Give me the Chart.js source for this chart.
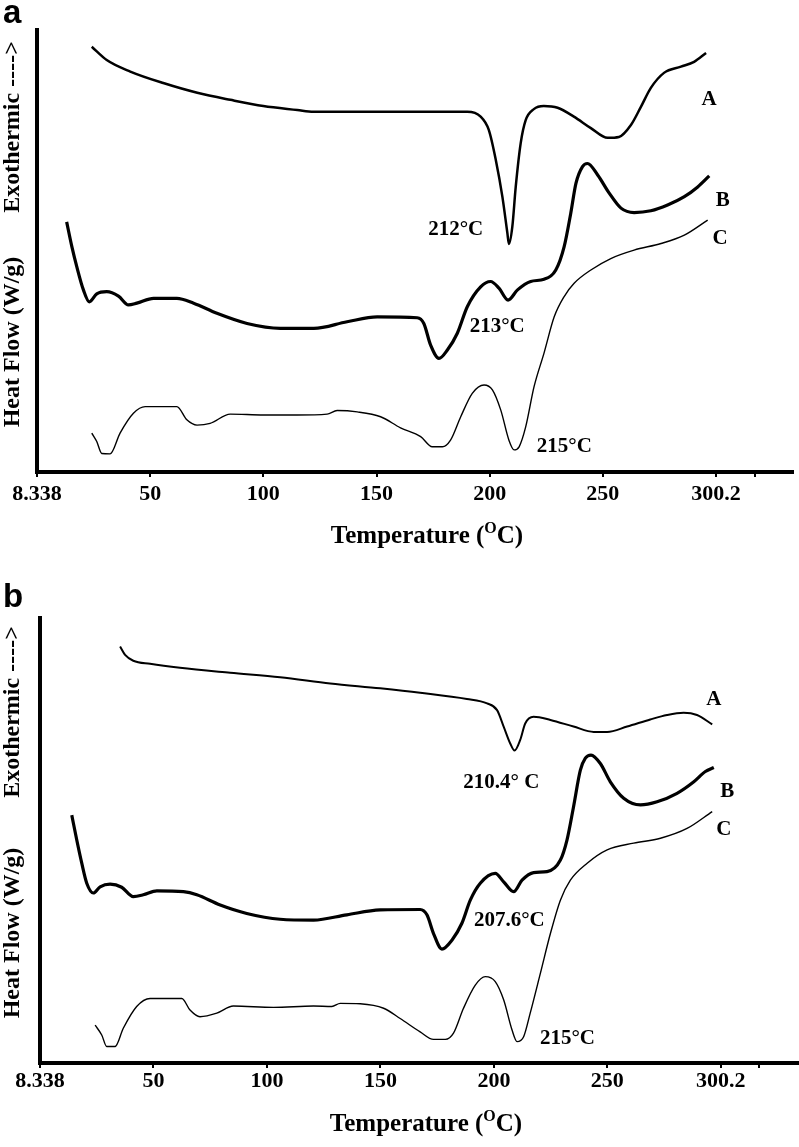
<!DOCTYPE html>
<html><head><meta charset="utf-8">
<script src="https://cdn.jsdelivr.net/npm/chart.js@4.4.0/dist/chart.umd.min.js"></script>
<style>
html,body{margin:0;padding:0;background:#fff;}
#wrap{position:relative;width:799px;height:1147px;overflow:hidden;background:#fff;}
.panel{position:absolute;left:0;width:799px;}
canvas{display:block;}
</style></head><body>
<div id="wrap">
<div class="panel" style="top:0;height:575px"><canvas id="ca" width="799" height="575"></canvas></div>
<div class="panel" style="top:575px;height:572px"><canvas id="cb" width="799" height="572"></canvas></div>
</div>
<script>
// ---- tick labels ----
const xTickValues = [0, 50, 100, 150, 200, 250, 300, 317];
const xTickLabels = ["8.338", "50", "100", "150", "200", "250", "300.2", ""];

// ---- panel a ----
const aA_T = [24.2,30.8,41.2,55.8,70.8,85.4,100,115,122.1,144.2,169.5,190.1,196.0,199.6,202.7,205.6,207.8,208.5,210.0,211.5,213.7,215.9,219.5,223.9,230.0,237.2,244.7,252.1,257.1,262.4,266.8,271.2,277.0,284.5,290.3,295.6];
const aA_H = [96.2,93.2,90.6,88.0,85.8,84.2,82.8,81.9,81.5,81.5,81.5,81.5,80.4,77.4,70.6,62.3,54.1,51.6,55.5,64.5,74.4,79.6,82.1,82.8,82.4,80.4,77.8,75.6,75.8,78.5,82.6,86.9,90.3,91.7,92.8,94.8];
const aB_T = [13.1,15.4,17.6,20.5,23.1,26.4,30.8,36.0,40.4,44.1,51.5,61.8,69.2,79.5,92.8,107.5,122.3,137.0,150.3,168.0,170.9,173.9,177.6,181.3,185.7,190.1,196.0,200.4,204.1,208.1,212.3,218.1,224.0,229.2,232.9,235.8,238.1,241.0,243.2,247.7,252.8,258.0,263.8,271.2,278.6,286.0,291.9,297.0];
const aB_H = [56.6,51.0,46.4,41.2,38.5,40.3,40.8,39.8,37.8,38.2,39.3,39.3,38.2,35.9,33.6,32.5,32.5,34.0,35.1,34.9,33.6,28.7,25.7,27.6,31.4,37.4,41.9,43.1,41.6,38.9,41.2,43.1,43.6,45.7,51.0,58.5,65.3,69.1,69.8,67.2,63.1,59.7,58.7,59.1,60.4,62.3,64.5,67.0];
const aC_T = [24.2,26.4,28.6,32.3,36.7,42.6,47.8,54.4,61.8,66.2,70.7,76.5,85.4,100.1,114.9,128.2,132.6,141.5,151.8,160.6,169.5,174.6,179.1,182.7,187.2,192.3,197.5,201.2,204.9,208.5,210.8,213.0,215.9,219.6,224.0,228.5,232.9,237.3,244.7,253.5,263.8,275.7,286.0,296.3];
const aC_H = [8.8,6.9,4.2,4.1,8.8,13.3,14.8,14.8,14.8,11.8,10.6,11.0,13.1,12.9,12.9,13.1,13.9,13.6,12.5,10.0,8.0,5.7,5.7,7.2,12.5,17.8,19.7,18.6,14.0,7.2,5.0,5.7,10.2,19.3,26.9,35.1,39.7,42.7,45.7,48.3,50.2,51.7,53.6,57.0];

// ---- panel b ----
const bA_T = [35.3,37.5,41.1,48.5,61.7,83.8,105.8,127.9,149.9,167.5,188.1,197.0,201.4,204.3,207.2,209.1,211.6,213.8,217.5,224.9,235.1,244.0,249.9,258.7,268.9,276.3,283.6,289.5,296.2];
const bA_H = [93.6,91.7,90.4,89.7,88.8,87.7,86.7,85.3,84.2,83.2,81.8,80.8,79.3,75.6,71.8,70.2,72.6,76.3,77.8,77.1,75.6,74.4,74.4,75.6,77.2,78.2,78.7,78.2,76.1];
const bB_T = [14.0,16.2,18.4,20.6,23.5,26.5,30.9,36.0,41.1,45.5,51.5,63.2,69.1,79.4,91.1,105.8,120.5,135.2,149.9,167.5,170.5,173.4,177.1,181.5,185.9,189.6,194.0,200.6,204.3,208.7,212.4,217.5,223.4,229.3,232.2,235.1,238.1,240.3,242.8,246.9,251.3,257.2,264.6,271.9,280.7,288.1,293.2,296.9];
const bB_H = [55.7,50.1,44.9,40.4,38.2,39.6,40.2,39.5,37.4,37.8,38.7,38.5,37.8,35.5,33.6,32.3,32.1,33.3,34.4,34.5,33.3,29.1,25.6,27.6,31.4,36.6,40.4,42.6,40.7,38.5,41.1,42.8,43.0,45.6,50.1,57.6,65.8,68.5,69.2,67.3,63.2,59.5,58.0,58.7,60.6,63.2,65.5,66.4];
const bC_T = [24.3,27.2,29.4,33.1,36.7,42.6,48.5,55.9,62.5,66.1,70.5,77.9,85.2,102.9,120.5,128.6,132.3,141.1,151.4,158.7,167.5,173.4,178.6,182.2,186.6,191.8,196.2,200.6,204.3,208.0,210.2,213.1,216.0,220.5,224.9,229.3,233.7,241.1,249.9,261.6,273.4,285.1,296.2];
const bC_H = [8.5,6.3,3.7,3.7,7.8,12.7,14.5,14.5,14.5,11.9,10.4,11.2,12.8,12.5,12.8,12.7,13.4,13.3,12.3,10.0,7.0,5.3,5.3,6.7,12.3,17.5,19.4,18.3,14.2,7.4,4.8,5.9,11.2,20.2,29.1,36.6,41.1,44.9,47.9,49.4,50.5,52.7,56.5];

// ---- annotation texts ----
const aNotes = [
  {text:"A", x:296.9, y:84.2}, {text:"B", x:303.0, y:61.5}, {text:"C", x:301.8, y:52.9},
  {text:"212°C", x:185.0, y:54.8}, {text:"213°C", x:203.3, y:32.8}, {text:"215°C", x:233.0, y:5.7}
];
const bNotes = [
  {text:"A", x:296.9, y:81.6}, {text:"B", x:302.8, y:61.0}, {text:"C", x:301.3, y:52.4},
  {text:"210.4° C", x:203.3, y:63.1}, {text:"207.6°C", x:206.8, y:32.1}, {text:"215°C", x:232.4, y:5.6}
];

const SERIF = '"Liberation Serif", "Times New Roman", serif';
const SANS = '"Liberation Sans", Arial, sans-serif';

function pts(T, H) { return T.map((t, i) => ({x: t, y: H[i]})); }

const textPlugin = {
  id: 'texts',
  afterDraw(chart, args, o) {
    const ctx = chart.ctx, xs = chart.scales.x, ys = chart.scales.y, ca = chart.chartArea;
    ctx.save();
    ctx.fillStyle = '#000';
    // annotations
    ctx.textBaseline = 'middle';
    ctx.textAlign = 'center';
    ctx.font = 'bold 21px ' + SERIF;
    for (const n of o.notes) ctx.fillText(n.text, xs.getPixelForValue(n.x), ys.getPixelForValue(n.y));
    // vertical titles
    for (const t of o.vtitles) {
      ctx.save();
      ctx.translate(t.px, t.py);
      ctx.rotate(-Math.PI / 2);
      ctx.font = 'bold 24px ' + SERIF;
      ctx.textAlign = 'center';
      ctx.textBaseline = 'middle';
      ctx.fillText(t.text, 0, 0);
      ctx.restore();
    }
    // panel letter
    ctx.font = 'bold 33px ' + SANS;
    ctx.textAlign = 'left';
    ctx.textBaseline = 'alphabetic';
    ctx.fillText(o.letter, o.letterX, o.letterY);
    // x title with superscript O
    const big = 'bold 25px ' + SERIF, small = 'bold 16px ' + SERIF;
    const p1 = 'Temperature (', p2 = 'O', p3 = 'C)';
    ctx.font = big; const w1 = ctx.measureText(p1).width, w3 = ctx.measureText(p3).width;
    ctx.font = small; const w2 = ctx.measureText(p2).width;
    let x = o.titleX - (w1 + w2 + w3) / 2;
    const y = o.titleY;
    ctx.textAlign = 'left';
    ctx.font = big; ctx.fillText(p1, x, y); x += w1;
    ctx.font = small; ctx.fillText(p2, x, y - 10); x += w2;
    ctx.font = big; ctx.fillText(p3, x, y);
    ctx.restore();
  }
};

function makeChart(id, cfg) {
  const ds = cfg.series.map(s => ({
    data: s.data, showLine: true, borderColor: '#000', borderWidth: s.w,
    pointRadius: 0, fill: false, cubicInterpolationMode: 'monotone'
  }));
  return new Chart(document.getElementById(id), {
    type: 'scatter',
    data: { datasets: ds },
    options: {
      responsive: false, animation: false, devicePixelRatio: 1,
      layout: { padding: { top: cfg.top, right: cfg.right, left: 0, bottom: 0 } },
      plugins: {
        legend: { display: false }, tooltip: { enabled: false },
        texts: { notes: cfg.notes, vtitles: cfg.vtitles, letter: cfg.letter, letterX: cfg.letterX, letterY: cfg.letterY, titleX: cfg.titleX, titleY: cfg.titleY }
      },
      scales: {
        x: {
          type: 'linear', min: 0, max: 334,
          afterBuildTicks: s => { s.ticks = xTickValues.map(v => ({ value: v })); },
          afterFit: s => { s.height = cfg.H - cfg.bottom; },
          ticks: {
            autoSkip: false, maxRotation: 0, minRotation: 0, padding: cfg.tickPad,
            color: '#000', font: { family: SERIF, size: 22, weight: 'bold' },
            callback: (v, i) => xTickLabels[i]
          },
          grid: { display: true, drawOnChartArea: false, drawTicks: true, tickLength: 5, lineWidth: 2, color: '#000' },
          border: { display: true, width: 4, color: '#000' }
        },
        y: {
          type: 'linear', min: 0, max: 100,
          afterFit: s => { s.width = cfg.left; },
          ticks: { display: false },
          grid: { display: false },
          border: { display: true, width: 4, color: '#000' }
        }
      }
    },
    plugins: [textPlugin]
  });
}

makeChart('ca', {
  H: 575, top: 30, right: 6, left: 37, bottom: 472, tickPad: 4,
  series: [{ data: pts(aA_T, aA_H), w: 2.5 }, { data: pts(aB_T, aB_H), w: 3.2 }, { data: pts(aC_T, aC_H), w: 1.4 }],
  notes: aNotes,
  vtitles: [{ text: 'Exothermic ---->', px: 13, py: 127 }, { text: 'Heat Flow (W/g)', px: 13, py: 342 }],
  letter: 'a', letterX: 3, letterY: 23,
  titleX: 427, titleY: 543
});
makeChart('cb', {
  H: 572, top: 43, right: 1, left: 40, bottom: 488, tickPad: 0,
  series: [{ data: pts(bA_T, bA_H), w: 2 }, { data: pts(bB_T, bB_H), w: 3.2 }, { data: pts(bC_T, bC_H), w: 1.4 }],
  notes: bNotes,
  vtitles: [{ text: 'Exothermic ---->', px: 13, py: 137 }, { text: 'Heat Flow (W/g)', px: 13, py: 358 }],
  letter: 'b', letterX: 3, letterY: 32,
  titleX: 426, titleY: 556
});
</script>
</body></html>
